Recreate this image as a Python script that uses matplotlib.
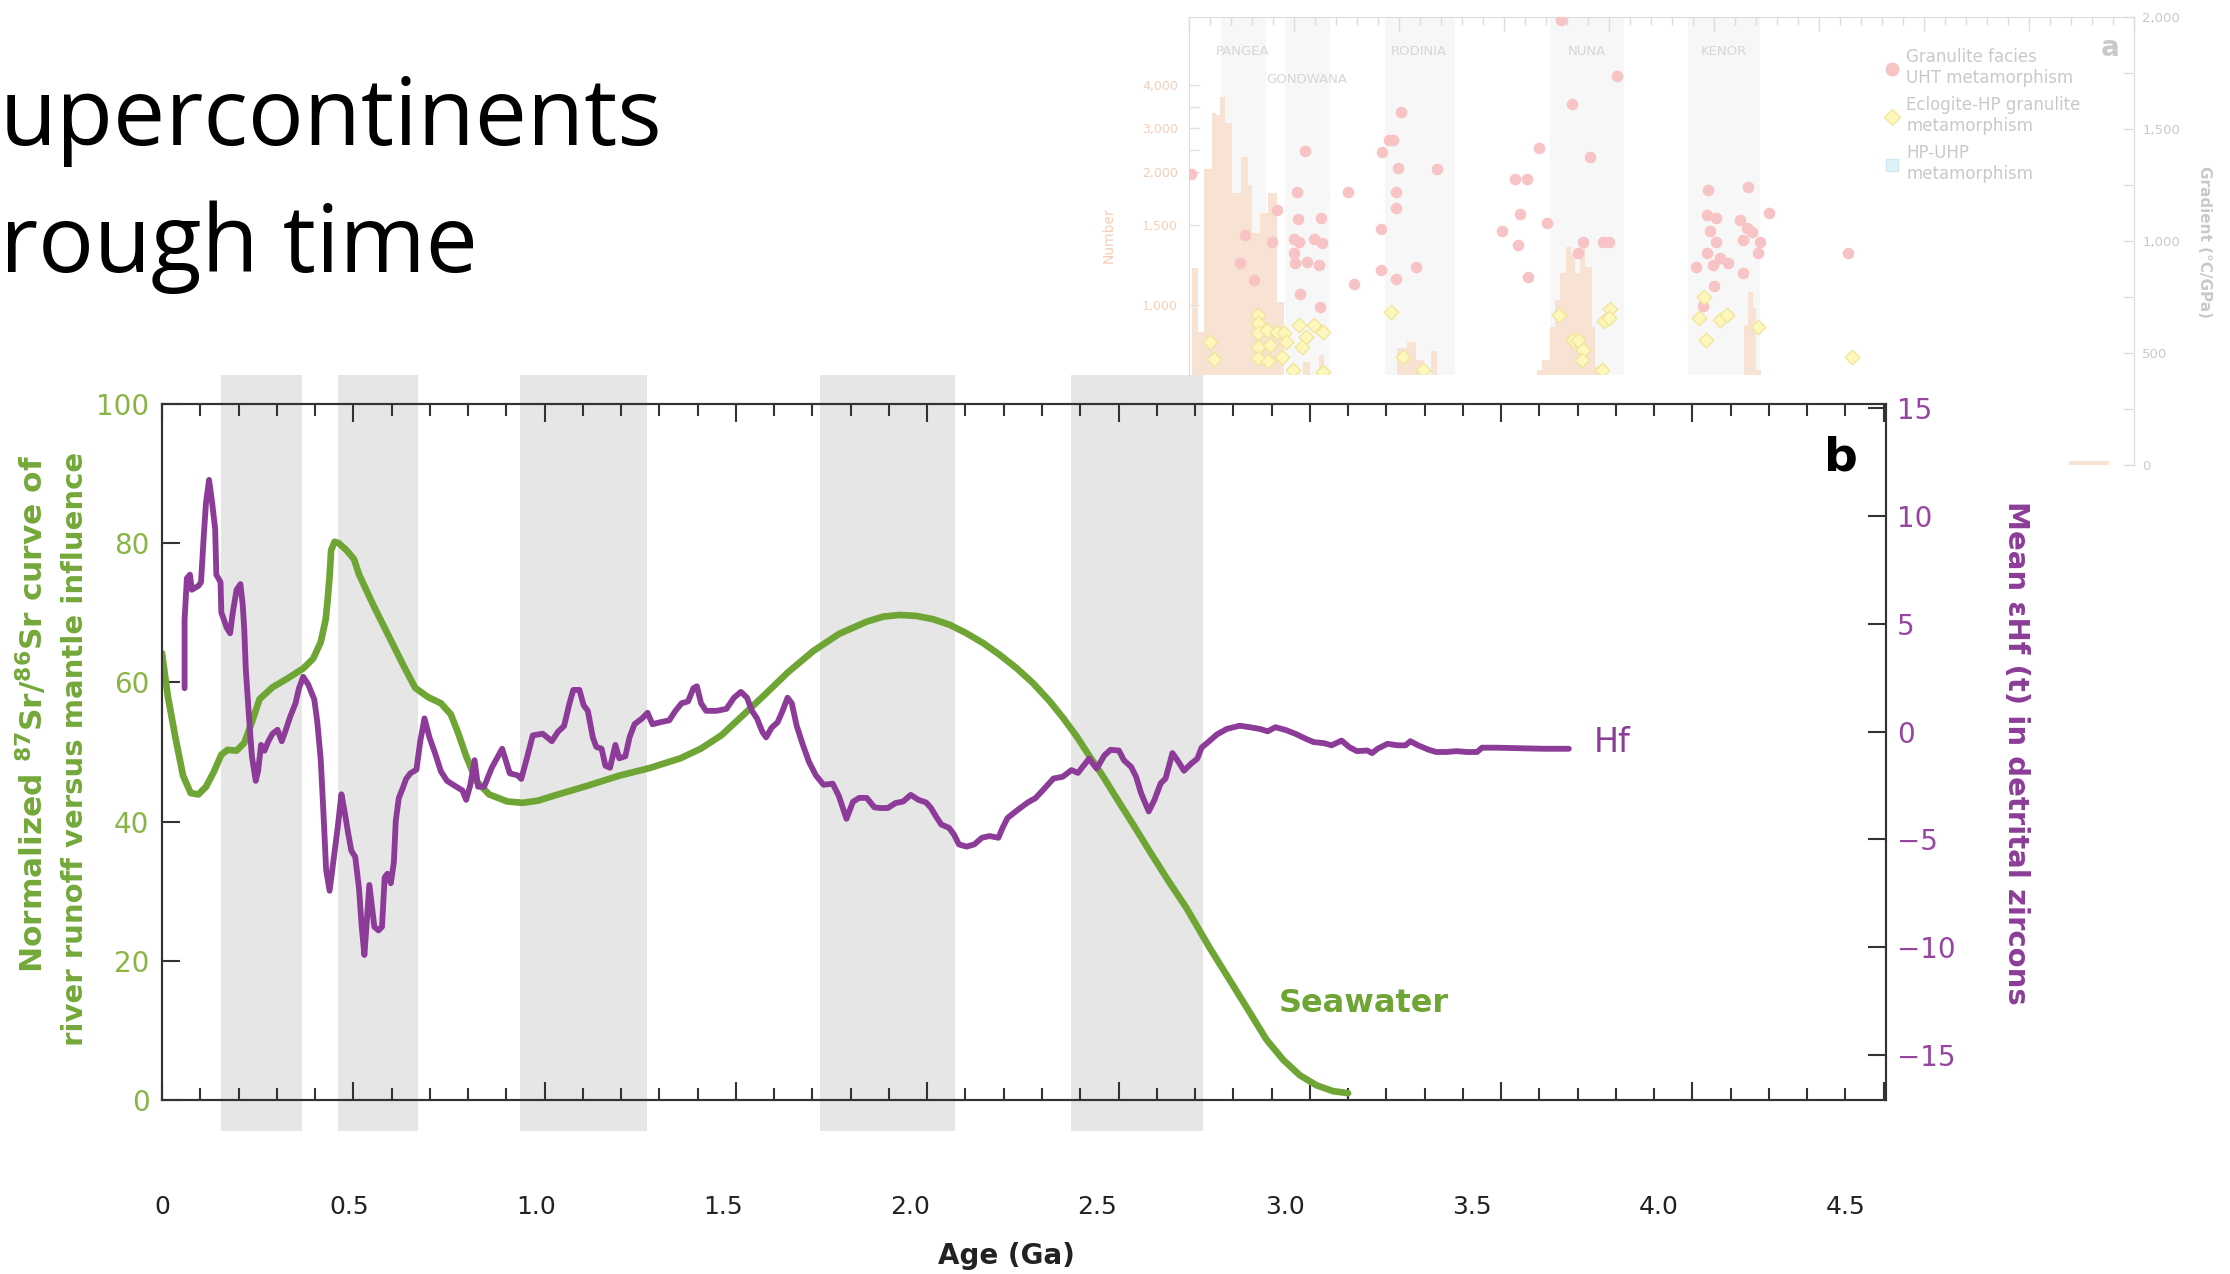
import numpy as np
import matplotlib
matplotlib.use('Agg')
import matplotlib.pyplot as plt
from matplotlib.patches import Rectangle
from matplotlib.lines import Line2D
from matplotlib.ticker import MultipleLocator

# ---------------- panel b data ----------------
band_start = [0.153, 0.459, 0.935, 1.720, 2.376]
band_end = [0.366, 0.670, 1.268, 2.073, 2.720]

# seawater 87Sr/86Sr curve (normalized, left axis)
sr_age = [0.0, 0.015, 0.035, 0.055, 0.075, 0.095, 0.115, 0.135, 0.155, 0.171,
          0.195, 0.215, 0.235, 0.255, 0.289, 0.329, 0.369, 0.395, 0.415, 0.428,
          0.433, 0.438, 0.442, 0.451, 0.462, 0.482, 0.502, 0.515, 0.555, 0.595,
          0.635, 0.662, 0.695, 0.729, 0.755, 0.775, 0.795, 0.822, 0.855, 0.902,
          0.942, 0.982, 1.035, 1.115, 1.195, 1.275, 1.355, 1.409, 1.462, 1.515,
          1.569, 1.636, 1.702, 1.769, 1.842, 1.885, 1.929, 1.972, 2.016, 2.060,
          2.103, 2.147, 2.190, 2.234, 2.277, 2.321, 2.356, 2.391, 2.425, 2.460,
          2.495, 2.539, 2.582, 2.626, 2.678, 2.739, 2.791, 2.844, 2.887, 2.931,
          2.974, 3.018, 3.061, 3.10]
sr_val = [64.2, 58.1, 52.1, 46.6, 44.1, 43.9, 45.0, 47.1, 49.6, 50.3,
          50.2, 51.3, 54.3, 57.6, 59.3, 60.6, 62.0, 63.4, 65.8, 69.1,
          71.9, 75.2, 79.0, 80.2, 80.0, 79.0, 77.7, 75.5, 70.8, 66.4,
          62.0, 59.2, 57.9, 57.0, 55.4, 52.6, 49.4, 45.8, 43.9, 42.9,
          42.7, 43.0, 43.9, 45.2, 46.6, 47.7, 49.1, 50.5, 52.4, 55.1,
          57.9, 61.45, 64.5, 66.95, 68.73, 69.45, 69.69, 69.55, 69.07, 68.25,
          67.05, 65.62, 63.94, 62.03, 59.87, 57.24, 54.84, 52.21, 49.34, 46.46,
          43.35, 39.52, 35.69, 31.86, 27.55, 21.8, 17.2, 12.5, 8.65, 5.74,
          3.55, 2.1, 1.27, 0.98]

# mean eHf(t) in detrital zircons (right axis)
hf_age = [0.059, 0.059, 0.065, 0.073, 0.078, 0.095, 0.102, 0.109, 0.115, 0.123,
          0.131, 0.139, 0.142, 0.153, 0.155, 0.169, 0.178, 0.185, 0.195, 0.205,
          0.211, 0.215, 0.219, 0.229, 0.235, 0.245, 0.251, 0.259, 0.268, 0.278,
          0.289, 0.302, 0.313, 0.322, 0.335, 0.349, 0.358, 0.369, 0.382, 0.398,
          0.406, 0.415, 0.422, 0.429, 0.438, 0.449, 0.459, 0.469, 0.478, 0.486,
          0.495, 0.505, 0.515, 0.522, 0.529, 0.535, 0.542, 0.549, 0.555, 0.566,
          0.575, 0.582, 0.589, 0.598, 0.606, 0.611, 0.619, 0.629, 0.638, 0.649,
          0.665, 0.675, 0.686, 0.699, 0.713, 0.729, 0.745, 0.769, 0.785, 0.795,
          0.806, 0.817, 0.826, 0.842, 0.862, 0.889, 0.909, 0.929, 0.939, 0.955,
          0.969, 0.995, 1.019, 1.035, 1.051, 1.065, 1.075, 1.091, 1.102, 1.113,
          1.126, 1.135, 1.149, 1.159, 1.171, 1.185, 1.195, 1.211, 1.222, 1.235,
          1.255, 1.269, 1.282, 1.302, 1.326, 1.342, 1.358, 1.375, 1.389, 1.398,
          1.409, 1.422, 1.449, 1.475, 1.495, 1.513, 1.529, 1.542, 1.555, 1.569,
          1.579, 1.593, 1.609, 1.622, 1.635, 1.646, 1.659, 1.675, 1.691, 1.709,
          1.729, 1.753, 1.769, 1.789, 1.806, 1.822, 1.842, 1.862, 1.877, 1.897,
          1.917, 1.937, 1.957, 1.977, 1.997, 2.010, 2.023, 2.037, 2.057, 2.070,
          2.083, 2.103, 2.123, 2.143, 2.163, 2.186, 2.197, 2.210, 2.237, 2.263,
          2.283, 2.303, 2.330, 2.354, 2.377, 2.394, 2.410, 2.423, 2.443, 2.463,
          2.479, 2.501, 2.514, 2.533, 2.546, 2.559, 2.579, 2.594, 2.610, 2.623,
          2.630, 2.641, 2.657, 2.671, 2.690, 2.706, 2.717, 2.737, 2.757, 2.783,
          2.817, 2.843, 2.870, 2.890, 2.910, 2.937, 2.963, 2.990, 3.010, 3.037,
          3.057, 3.083, 3.103, 3.123, 3.150, 3.163, 3.177, 3.203, 3.230, 3.250,
          3.263, 3.283, 3.310, 3.330, 3.357, 3.383, 3.410, 3.437, 3.450, 3.490,
          3.543, 3.610, 3.677]
hf_val = [2.01, 5.17, 7.11, 7.28, 6.58, 6.76, 6.93, 9.04, 10.62, 11.68,
          10.62, 9.39, 7.28, 6.93, 5.53, 4.82, 4.56, 5.53, 6.58, 6.84,
          5.88, 4.74, 2.89, 0.26, -1.15, -2.29, -1.85, -0.62, -0.89, -0.45,
          -0.10, 0.08, -0.45, -0.01, 0.69, 1.31, 2.01, 2.54, 2.19, 1.49,
          0.43, -1.33, -3.79, -6.42, -7.39, -5.89, -4.49, -2.91, -3.79, -4.66,
          -5.54, -5.81, -7.30, -9.06, -10.37, -8.88, -7.12, -8.18, -9.06, -9.23,
          -9.06, -6.77, -6.60, -7.04, -6.07, -4.14, -3.08, -2.64, -2.20, -1.94,
          -1.77, -0.45, 0.61, -0.27, -0.97, -1.85, -2.29, -2.56, -2.73, -3.17,
          -2.47, -1.33, -2.56, -2.56, -1.68, -0.80, -1.94, -2.03, -2.20, -1.15,
          -0.18, -0.10, -0.45, -0.01, 0.26, 1.31, 1.93, 1.93, 1.22, 0.96,
          -0.27, -0.71, -0.80, -1.59, -1.68, -0.62, -1.24, -1.15, -0.27, 0.34,
          0.61, 0.87, 0.34, 0.43, 0.52, 0.96, 1.31, 1.40, 2.01, 2.10,
          1.31, 0.96, 0.96, 1.05, 1.57, 1.84, 1.57, 0.96, 0.61, -0.01,
          -0.27, 0.17, 0.43, 0.96, 1.57, 1.31, 0.26, -0.62, -1.41, -2.03,
          -2.47, -2.42, -2.99, -4.05, -3.26, -3.08, -3.08, -3.52, -3.55, -3.55,
          -3.32, -3.25, -2.94, -3.17, -3.29, -3.55, -3.94, -4.32, -4.47, -4.78,
          -5.24, -5.34, -5.24, -4.93, -4.85, -4.93, -4.47, -4.01, -3.63, -3.29,
          -3.09, -2.71, -2.18, -2.10, -1.79, -1.92, -1.56, -1.26, -1.72, -1.11,
          -0.85, -0.88, -1.33, -1.64, -2.10, -2.86, -3.71, -3.17, -2.41, -2.18,
          -1.72, -1.00, -1.41, -1.82, -1.49, -1.26, -0.75, -0.45, -0.14, 0.12,
          0.27, 0.20, 0.12, 0.01, 0.20, 0.07, -0.11, -0.34, -0.49, -0.54,
          -0.64, -0.42, -0.72, -0.91, -0.88, -1.00, -0.80, -0.57, -0.64, -0.64,
          -0.45, -0.64, -0.84, -0.95, -0.95, -0.91, -0.95, -0.95, -0.75, -0.75,
          -0.77, -0.80, -0.80]

age_ticks = [0, 0.5, 1.0, 1.5, 2.0, 2.5, 3.0, 3.5, 4.0, 4.5]
age_labels = ['0', '0.5', '1.0', '1.5', '2.0', '2.5', '3.0', '3.5', '4.0', '4.5']

# ---------------- panel a data (faded background figure) ----------------
sc_names = ['PANGEA', 'GONDWANA', 'RODINIA', 'NUNA', 'KENOR']
sc_age = [0.253, 0.562, 1.096, 1.893, 2.545]
sc_grad = [1848, 1719, 1848, 1848, 1848]

uht_age = [1.77, 2.04, 1.825, 1.01, 0.97, 0.95, 0.55, 0.92,
           1.665, 1.91, 0.011, 0.995, 1.18, 1.553, 1.61, 2.47,
           2.66, 0.513, 0.758, 0.985, 0.42, 0.985, 0.519, 0.627,
           1.575, 2.466, 2.51, 2.626, 2.76, 1.706, 1.49, 0.915,
           0.267, 2.48, 2.655, 2.68, 0.394, 0.50, 0.525, 0.595,
           0.634, 1.875, 1.97, 2.0, 2.51, 2.64, 2.72, 1.566,
           0.50, 2.466, 2.71, 3.14, 1.853, 0.244, 0.506, 0.564,
           0.621, 2.53, 2.565, 2.415, 2.495, 1.08, 0.915, 0.308,
           0.985, 1.614, 2.64, 0.787, 2.498, 0.528, 0.624, 2.447]
uht_grad = [1987, 1737, 1610, 1577, 1451, 1451, 1403, 1399,
            1414, 1377, 1299, 1325, 1322, 1275, 1275, 1228,
            1243, 1219, 1217, 1217, 1138, 1146, 1100, 1101,
            1119, 1116, 1101, 1094, 1127, 1082, 1046, 1052,
            1027, 1046, 1057, 1042, 997, 1008, 997, 1008,
            993, 997, 997, 997, 997, 1005, 997, 982,
            945, 945, 945, 945, 945, 903, 900, 908,
            893, 923, 900, 886, 893, 886, 871, 826,
            829, 838, 856, 808, 801, 764, 707, 710]

hp_age = [0.098, 0.117, 0.33, 0.33, 0.33, 0.372, 0.42, 0.452,
          0.33, 0.388, 0.461, 0.33, 0.378, 0.442, 0.525, 0.595,
          0.637, 0.557, 0.538, 0.493, 0.64, 0.96, 1.017, 1.113,
          1.764, 1.975, 2.006, 2.0, 1.83, 1.853, 1.878, 1.872,
          1.968, 2.453, 2.428, 2.53, 2.562, 2.46, 2.71, 3.156]
hp_grad = [551, 472, 670, 633, 588, 603, 595, 588,
           528, 536, 551, 476, 466, 484, 625, 625,
           595, 570, 528, 424, 417, 682, 484, 424,
           668, 644, 695, 655, 558, 558, 513, 469,
           424, 749, 655, 647, 670, 558, 615, 481]

hist_left = [0.013, 0.045, 0.072, 0.108, 0.129, 0.148, 0.172, 0.203, 0.248, 0.280,
             0.299, 0.339, 0.378, 0.418, 0.450, 0.545, 0.577, 0.617,
             0.99, 1.04, 1.08, 1.12, 1.15,
             1.655, 1.679, 1.718, 1.742, 1.766, 1.793, 1.818, 1.837, 1.861, 1.885,
             1.917, 1.933, 2.645, 2.661, 2.685, 2.701, 4.19]
hist_right = [0.045, 0.072, 0.108, 0.129, 0.148, 0.172, 0.203, 0.248, 0.280, 0.299,
              0.339, 0.378, 0.418, 0.450, 0.545, 0.577, 0.617, 0.641,
              1.04, 1.08, 1.12, 1.15, 1.18,
              1.679, 1.718, 1.742, 1.766, 1.793, 1.818, 1.837, 1.861, 1.885, 1.917,
              1.933, 1.952, 2.661, 2.685, 2.701, 2.726, 4.38]
hist_count = [1229, 833, 2057, 3357, 3300, 3732, 3125, 1799, 2353, 1877,
              1450, 1610, 1799, 1020, 560, 646, 500, 690,
              729, 771, 656, 520, 715,
              594, 656, 864, 1031, 1198, 1365, 1323, 1198, 1365, 1240,
              864, 615, 875, 1083, 979, 594, 25]

# broken "Number" axis: anchors of the compressed upper part
num_real = [0, 1500, 2000, 4000, 8000]
num_draw = [0, 1500, 1831, 2375, 3463]

GREEN = '#6ea534'
GREEN_TXT = '#8ab446'
GREEN_LAB = '#74a83a'
PURPLE = '#8c3c98'
PURPLE_TXT = '#9646a0'
BAND = '#e6e6e6'
FADE = '#c9c9c9'

W, H = 2230, 1274
fig = plt.figure(figsize=(W / 100, H / 100), dpi=100)

# ---------------- panel a (faded, partly hidden) ----------------
ax_a = fig.add_axes([1189 / W, 1 - 465 / H, 945 / W, 448 / H])
ax_a.set_zorder(0)
for s, e in zip(band_start, band_end):
    ax_a.axvspan(s, e, color='#f7f7f7', lw=0, zorder=0)
widths = np.array(hist_right) - np.array(hist_left)
ax_a.bar(hist_left, hist_count, width=widths, align='edge', color='#f8e2d4', lw=0, zorder=1)
ax_a.set_yscale('function', functions=(lambda n: np.interp(n, num_real, num_draw),
                                       lambda v: np.interp(v, num_draw, num_real)))
ax_a.set_ylim(0, 5560)
ax_a.set_xlim(0, 4.5)
ax_a.set_yticks([1000, 1500, 2000, 2500, 3000, 3500, 4000],
                labels=['1,000', '1,500', '2,000', '', '3,000', '', '4,000'])
ax_a.tick_params(axis='y', direction='in', length=8, width=1, color='#e2e2e2',
                 labelcolor='#f6cdb8', labelsize=9, pad=8)
ax_a.xaxis.tick_top()
ax_a.xaxis.set_major_locator(MultipleLocator(0.5))
ax_a.xaxis.set_minor_locator(MultipleLocator(0.1))
ax_a.tick_params(axis='x', which='major', direction='in', length=10, width=1,
                 color='#dcdcdc', labeltop=False)
ax_a.tick_params(axis='x', which='minor', direction='in', length=6, width=1, color='#dcdcdc')
for sp in ['left', 'top', 'right']:
    ax_a.spines[sp].set_color('#dcdcdc')
ax_a.spines['bottom'].set_visible(False)

ax_g = ax_a.twinx()
ax_g.set_ylim(0, 2000)
ax_g.set_yticks([0, 500, 1000, 1500, 2000], labels=['0', '500', '1,000', '1,500', '2,000'])
ax_g.yaxis.set_minor_locator(MultipleLocator(250))
ax_g.tick_params(axis='y', which='both', direction='in', length=8, width=1, color='#dcdcdc',
                 labelcolor=FADE, labelsize=9.5, pad=6)
ax_g.spines['right'].set_color('#dcdcdc')
ax_g.spines['bottom'].set_visible(False)
ax_g.spines['top'].set_visible(False)
ax_g.spines['left'].set_visible(False)
ax_g.scatter(uht_age, uht_grad, s=70, marker='o', color='#f8c3c4', lw=0, zorder=3)
ax_g.scatter(hp_age, hp_grad, s=55, marker='D', facecolor='#fdf7bd', edgecolor='#f1e698',
             lw=1, zorder=4)
for name, x, y in zip(sc_names, sc_age, sc_grad):
    ax_g.text(x, y, name, ha='center', va='center', fontsize=9.5, color='#d6d6d6')

handles = [Line2D([], [], ls='', marker='o', ms=9, mfc='#f8c3c4', mec='#f8c3c4'),
           Line2D([], [], ls='', marker='D', ms=8, mfc='#fdf7bd', mec='#f1e698'),
           Line2D([], [], ls='', marker='s', ms=8, mfc='#dff1f9', mec='#cde8f3')]
ax_g.legend(handles, ['Granulite facies\nUHT metamorphism',
                      'Eclogite-HP granulite\nmetamorphism',
                      'HP-UHP\nmetamorphism'],
            loc='upper left', bbox_to_anchor=(1884 / W, 1 - 48 / H),
            bbox_transform=fig.transFigure, frameon=False, fontsize=12,
            labelcolor=FADE, handlelength=1.0, handletextpad=0.35,
            labelspacing=0.55, borderpad=0, borderaxespad=0)
fig.text(2110 / W, 1 - 48 / H, 'a', fontsize=20, weight='bold', color=FADE,
         ha='center', va='center')
fig.text(2204 / W, 1 - 242 / H, 'Gradient (°C/GPa)', rotation=270, fontsize=11,
         weight='bold', color=FADE, ha='center', va='center')
fig.text(1109 / W, 1 - 235 / H, 'Number', rotation=90, fontsize=10,
         color='#f6cdb8', ha='center', va='center')

# white sheet of panel b covering the lower part of panel a
fig.add_artist(Rectangle((0, 0), 2055 / W, 1 - 375 / H, transform=fig.transFigure,
                         facecolor='white', edgecolor='none', zorder=1))

# ---------------- title ----------------
fig.text(0.0, 1 - 145 / H, 'upercontinents', fontsize=67, family='Open Sans',
         ha='left', va='baseline', zorder=5)
fig.text(0.0, 1 - 272 / H, 'rough time', fontsize=67, family='Open Sans',
         ha='left', va='baseline', zorder=5)

# ---------------- panel b ----------------
ax = fig.add_axes([162 / W, 1 - 1100 / H, 1724 / W, 696 / H])
ax.set_zorder(2)
for s, e in zip(band_start, band_end):
    ax.axvspan(s, e, ymin=-0.044, ymax=1.041, color=BAND, lw=0, zorder=0, clip_on=False)
ax.plot(sr_age, sr_val, color=GREEN, lw=4.8, solid_capstyle='round',
        solid_joinstyle='round', zorder=3)
ax.set_xlim(0, 4.506)
ax.set_ylim(0, 100)
ax.set_yticks([0, 20, 40, 60, 80, 100])
ax.xaxis.set_major_locator(MultipleLocator(0.5))
ax.xaxis.set_minor_locator(MultipleLocator(0.1))
ax.tick_params(axis='x', which='both', direction='in', top=True, bottom=True,
               labelbottom=False, width=1.5, color='#333333')
ax.tick_params(axis='x', which='major', length=13)
ax.tick_params(axis='x', which='minor', length=8.5)
ax.tick_params(axis='y', direction='in', length=13, width=1.5, color='#333333',
               labelcolor=GREEN_TXT, labelsize=20, pad=9)
for sp in ax.spines.values():
    sp.set_color('#333333')
    sp.set_linewidth(1.5)

ax2 = ax.twinx()
ax2.set_zorder(3)
ax2.patch.set_visible(False)
ax2.plot(hf_age, hf_val, color=PURPLE, lw=4.2, solid_capstyle='round',
         solid_joinstyle='round', zorder=3)
ax2.set_ylim(-17.1, 15.2)
ax2.set_yticks([-15, -10, -5, 0, 5, 10, 15])
ax2.tick_params(axis='y', direction='in', length=13, width=1.5, color='#333333',
                labelcolor=PURPLE_TXT, labelsize=20, pad=8)
for sp in ax2.spines.values():
    sp.set_color('#333333')
    sp.set_linewidth(1.5)

# age labels sit lower and slightly compressed, as in the source figure
sec = ax.secondary_xaxis(-0.137, functions=(lambda x: x / 0.978, lambda x: x * 0.978))
sec.set_xticks(age_ticks, labels=age_labels)
sec.tick_params(length=0, pad=0, labelsize=18, colors='#222222')
sec.spines['bottom'].set_visible(False)

fig.text(1006 / W, 1 - 1256 / H, 'Age (Ga)', fontsize=20, weight='bold',
         color='#222222', ha='center', va='center', zorder=5)
fig.text(32 / W, 1 - 455 / H, 'Normalized $\\mathbf{{}^{87}Sr/{}^{86}Sr}$ curve of',
         rotation=90, fontsize=22.5, weight='bold', color=GREEN_LAB, ha='center', va='top',
         zorder=5)
fig.text(75 / W, 1 - 452 / H, 'river runoff versus mantle influence',
         rotation=90, fontsize=21, weight='bold', color=GREEN_LAB, ha='center', va='top',
         zorder=5)
fig.text(2016 / W, 1 - 753 / H, 'Mean εHf (t) in detrital zircons', rotation=270,
         fontsize=21, weight='bold', color=PURPLE, ha='center', va='center', zorder=5)
fig.text(1841 / W, 1 - 458 / H, 'b', fontsize=34, weight='bold', color='black',
         ha='center', va='center', zorder=5)
fig.text(1364 / W, 1 - 1003 / H, 'Seawater', fontsize=23, weight='bold', color=GREEN,
         ha='center', va='center', zorder=5)
fig.text(1612 / W, 1 - 742 / H, 'Hf', fontsize=24, color=PURPLE,
         ha='center', va='center', zorder=5)

fig.savefig('out.png', dpi=100, facecolor='white')
